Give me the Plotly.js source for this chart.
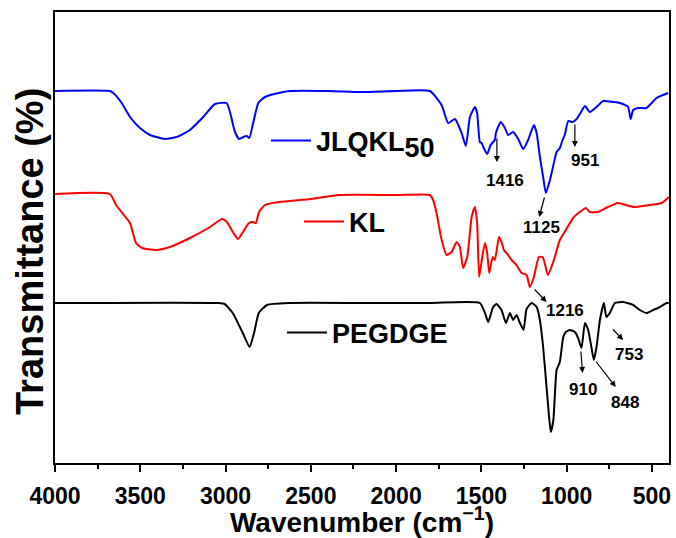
<!DOCTYPE html>
<html>
<head>
<meta charset="utf-8">
<script src="https://cdn.plot.ly/plotly-3.0.1.min.js"></script>
<style>html,body{margin:0;padding:0;background:#fff;}#chart{width:676px;height:538px;}</style>
</head>
<body>
<div id="chart"></div>
<script>
// Series names
const seriesNames = ["JLQKL<sub><span style='font-size:27px'>50</span></sub>", "KL", "PEGDGE"];
const seriesColors = ["#0000ff", "#ff0000", "#000000"];

// JLQKL50 (offset transmittance, arbitrary units)
const jlqklWn = [4000,3678,3658,3609,3560,3502,3443,3355,3287,3209,3131,3062,2994,2974,2945,2920,2896,2876,2861,2838,2808,2769,2662,2622,2400,2200,2000,1802,1733,1695,1655,1616,1591,1567,1538,1525,1509,1499,1489,1466,1446,1421,1415,1387,1362,1343,1314,1284,1255,1226,1192,1176,1157,1138,1122,1098,1075,1059,1040,1024,1011,991,965,942,919,893,864,825,786,727,688,640,625,610,581,532,473,405];
const jlqklT  = [372,372,370,360,346,335,328,324,326,333,346,359,360,351,331,324,326,327,325,340,360,366,371,372,372,371,372,372,358,340,344,330,317,346,356,350,321,320,316,309,318,323,330,341,335,328,331,324,314,323,338,330,306,286,270,283,300,311,315,323,328,342,341,344,350,357,351,356,362,361,360,356,344,353,355,355,365,370];

// KL
const klWn = [4000,3678,3642,3596,3560,3525,3490,3408,3326,3209,3091,3021,2992,2957,2927,2898,2863,2839,2822,2804,2769,2687,2499,2335,2000,1802,1783,1763,1733,1704,1675,1645,1626,1607,1583,1557,1538,1525,1513,1495,1479,1466,1454,1434,1421,1397,1382,1368,1343,1323,1294,1264,1235,1216,1192,1163,1140,1110,1075,1040,1005,958,923,887,864,817,770,700,653,606,512,442,401];
const klT  = [269,269,258,248,240,220,215,213,216,225,236,244,241,231,224,231,240,241,240,251,258,261,264,268,268,268,263,250,223,208,211,221,216,195,206,246,256,240,186,206,220,210,190,206,203,226,221,213,208,203,198,190,188,176,186,206,206,188,203,223,233,246,251,255,251,251,255,260,258,256,258,260,266];

// PEGDGE
const pegWn = [4000,3040,3005,2958,2899,2859,2833,2805,2757,2617,2200,1800,1509,1479,1460,1431,1411,1382,1356,1333,1314,1294,1274,1253,1235,1206,1176,1157,1138,1118,1103,1093,1078,1059,1040,1020,1005,981,952,933,913,893,874,854,841,825,805,782,767,747,717,669,610,571,532,493,464,414,401];
const pegT  = [160,160,159,150,130,116,130,150,158,160,160,160,160,150,141,156,159,153,140,150,143,148,140,133,154,160,156,143,116,76,46,31,43,93,101,126,131,133,131,125,115,140,133,115,103,116,143,160,146,150,160,161,158,153,150,153,155,160,160];

// Tick labels
const xTickVals = [4000,3500,3000,2500,2000,1500,1000,500];
const xTickText = ["4000","3500","3000","2500","2000","1500","1000","500"];

// Peak labels
const peakLabels = ["1416","951","1125","1216","910","848","753"];

const FONT = "Liberation Sans, Arial, sans-serif";

const xs = [jlqklWn, klWn, pegWn];
const ys = [jlqklT, klT, pegT];
const legendIds = ["legend", "legend2", "legend3"];
const traces = xs.map((x, i) => ({
  type: "scatter", mode: "lines", x: x, y: ys[i], name: seriesNames[i],
  line: {color: seriesColors[i], width: 2, shape: "spline", smoothing: 0.5},
  legend: legendIds[i], showlegend: true, hoverinfo: "skip"
}));

function legendBox(xp, yp) {
  return {x: xp, y: yp, xanchor: "left", yanchor: "middle", bgcolor: "rgba(0,0,0,0)",
    borderwidth: 0, font: {family: FONT, size: 27, color: "#000", weight: "bold"}, itemwidth: 40};
}
const W0 = 55, W1 = 669, H0 = 12, H1 = 463;
const px = v => (v - W0) / (W1 - W0);
const py = v => (H1 - v) / (H1 - H0);

// arrows: [headWn, headT, tailWn, tailT]
const arrows = [
  [1409, 301, 1409, 326],
  [952, 316, 952, 340],
  [1161, 246, 1128, 267],
  [1118, 161, 1196, 175],
  [907, 90, 917, 113],
  [712, 76, 835, 103],
  [669, 123, 737, 135]
];
// label positions
const labelPos = [
  [1362, 283], [893, 303], [1150, 236], [1008, 153], [905, 74], [659, 61], [635, 109]
];

const annotations = [];
arrows.forEach(a => annotations.push({x: a[0], y: a[1], ax: a[2], ay: a[3], xref: "x", yref: "y", axref: "x", ayref: "y",
  text: "", showarrow: true, arrowhead: 2, arrowsize: 1, arrowwidth: 1.2, arrowcolor: "#000"}));
labelPos.forEach((p, i) => annotations.push({x: p[0], y: p[1], xref: "x", yref: "y", text: peakLabels[i],
  showarrow: false, xanchor: "center", yanchor: "middle", font: {family: FONT, size: 17, color: "#000", weight: "bold"}}));
annotations.push({x: px(30), y: py(252), xref: "paper", yref: "paper", text: "Transmittance (%)", textangle: -90,
  showarrow: false, xanchor: "center", yanchor: "middle", font: {family: FONT, size: 38, color: "#000", weight: "bold"}});

const layout = {
  width: 676, height: 538,
  margin: {l: 55, r: 7, t: 12, b: 75, pad: 0},
  paper_bgcolor: "#fff", plot_bgcolor: "#fff",
  xaxis: {
    range: [4000, 400], tickvals: xTickVals, ticktext: xTickText,
    ticks: "outside", ticklen: 7, tickwidth: 2, tickcolor: "#000",
    minor: {ticks: "outside", dtick: 250, ticklen: 4, tickwidth: 2, tickcolor: "#000"},
    showline: true, linewidth: 2, linecolor: "#000", mirror: true,
    showgrid: false, zeroline: false, ticklabelstandoff: 4,
    tickfont: {family: FONT, size: 23, color: "#000", weight: "bold"},
    title: {text: "Wavenumber (cm<sup>\u22121</sup>)", standoff: 9, font: {family: FONT, size: 28, color: "#000", weight: "bold"}}
  },
  yaxis: {
    range: [0, 451], showticklabels: false, ticks: "",
    showline: true, linewidth: 2, linecolor: "#000", mirror: true,
    showgrid: false, zeroline: false
  },
  legend: legendBox(px(266), py(141)),
  legend2: legendBox(px(299), py(222)),
  legend3: legendBox(px(282), py(333)),
  annotations: annotations,
  showlegend: true
};

Plotly.newPlot("chart", traces, layout, {displayModeBar: false, staticPlot: true});
</script>
</body>
</html>
